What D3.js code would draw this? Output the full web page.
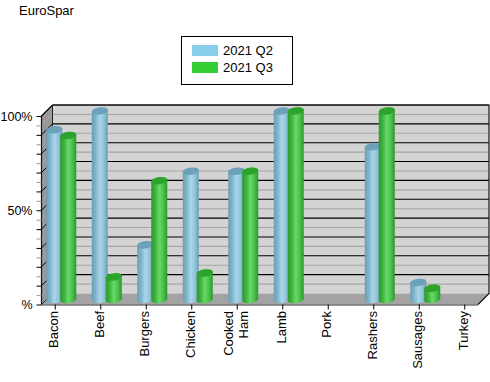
<!DOCTYPE html>
<html>
<head>
<meta charset="utf-8">
<script src="https://cdn.jsdelivr.net/npm/d3@7"></script>
<style>
  html, body { margin: 0; padding: 0; background: #fff; }
  text { font-family: "Liberation Sans", Arial, sans-serif; }
</style>
</head>
<body>
<div id="chart"></div>
<script>
const categories = ["Bacon", "Beef", "Burgers", "Chicken", "Cooked Ham", "Lamb", "Pork", "Rashers", "Sausages", "Turkey"]
const seriesNames = ["2021 Q2", "2021 Q3"]
const q2Values = [90, 100, 29, 68, 68, 100, 0, 81, 9, 0]
const q3Values = [87, 12, 63, 14, 68, 100, 0, 100, 6, 0]
const seriesValues = [q2Values, q3Values]
const yTicks = [0, 5, 10, 15, 20, 25, 30, 35, 40, 45, 50, 55, 60, 65, 70, 75, 80, 85, 90, 95, 100]
const yTickLabels = { 0: "%", 50: "50%", 100: "100%" }

const width = 490
const height = 382

// Plan avant du graphique + décalage de la profondeur 3D
const front = { left: 41.5, right: 478, top: 116, bottom: 304.5 }
const depth = 11

const svg = d3
  .select("#chart")
  .append("svg")
  .attr("width", width)
  .attr("height", height)
  .style("display", "block")

const y = d3.scaleLinear().domain([0, 100]).range([front.bottom, front.top])
const x = d3.scaleBand().domain(categories).range([32.5, 487.5])
const xSeries = d3.scalePoint().domain(seriesNames).range([-1, 13])

const defs = svg.append("defs")
const gradients = [
  { id: "grad-q2", stops: ["#6a9db4", "#7fb5cc", "#a8d6ea", "#93c4d9", "#699bb1"], top: "#6ba2b9" },
  { id: "grad-q3", stops: ["#2a9a2a", "#3fb23f", "#68d968", "#4cc04c", "#2a982a"], top: "#2ca42c" },
]
gradients.forEach((g) => {
  const lg = defs.append("linearGradient").attr("id", g.id)
  g.stops.forEach((c, i) => {
    lg.append("stop")
      .attr("offset", `${(100 * i) / (g.stops.length - 1)}%`)
      .attr("stop-color", c)
  })
})

const wall = svg.append("g")

// Mur du fond
wall
  .append("rect")
  .attr("x", front.left + depth)
  .attr("y", front.top - depth)
  .attr("width", front.right - front.left)
  .attr("height", front.bottom - front.top)
  .attr("fill", "#d3d3d3")

// Mur gauche
wall
  .append("path")
  .attr(
    "d",
    d3.line()([
      [front.left, front.top],
      [front.left + depth, front.top - depth],
      [front.left + depth, front.bottom - depth],
      [front.left, front.bottom],
    ]) + "Z"
  )
  .attr("fill", "#999999")

// Sol
wall
  .append("path")
  .attr(
    "d",
    d3.line()([
      [front.left, front.bottom],
      [front.left + depth, front.bottom - depth],
      [front.right + depth, front.bottom - depth],
      [front.right, front.bottom],
    ]) + "Z"
  )
  .attr("fill", "#a3a3a3")

// Grille : noir tous les 10, gris entre les deux
yTicks.forEach((t) => {
  const color = t % 10 === 0 ? "#000" : "#a6a6a6"
  if (t > 0) {
    wall
      .append("line")
      .attr("x1", front.left + depth)
      .attr("x2", front.right + depth)
      .attr("y1", y(t) - depth)
      .attr("y2", y(t) - depth)
      .attr("stroke", color)
      .attr("stroke-width", 1.1)
  }
  wall
    .append("line")
    .attr("x1", front.left)
    .attr("x2", front.left + depth)
    .attr("y1", y(t))
    .attr("y2", y(t) - depth)
    .attr("stroke", color)
    .attr("stroke-width", 1)
})

// Contours
wall
  .append("path")
  .attr(
    "d",
    d3.line()([
      [front.left, front.bottom],
      [front.left, front.top],
      [front.left + depth, front.top - depth],
      [front.right + depth, front.top - depth],
      [front.right + depth, front.bottom - depth],
      [front.right, front.bottom],
    ])
  )
  .attr("fill", "none")
  .attr("stroke", "#111")
  .attr("stroke-width", 1.2)
wall
  .append("line")
  .attr("x1", front.left + depth)
  .attr("x2", front.left + depth)
  .attr("y1", front.top - depth)
  .attr("y2", front.bottom - depth)
  .attr("stroke", "#222")
wall
  .append("line")
  .attr("x1", front.left)
  .attr("x2", front.left + depth)
  .attr("y1", front.bottom)
  .attr("y2", front.bottom - depth)
  .attr("stroke", "#222")

// Cylindres
const barRx = 8
const barRy = 3.6
const barLift = 4.5

function cylinder(cx, value) {
  const yTop = y(value) - barLift
  const yBase = y(0) - barLift
  return (
    `M${cx - barRx},${yTop}` +
    `L${cx - barRx},${yBase}` +
    `A${barRx},${barRy} -8 0 0 ${cx + barRx},${yBase - 1}` +
    `L${cx + barRx},${yTop - 1}` +
    `A${barRx},${barRy} -8 0 0 ${cx - barRx},${yTop}Z`
  )
}

function cylinderTop(cx, value) {
  const yTop = y(value) - barLift
  return (
    `M${cx - barRx},${yTop}` +
    `A${barRx},${barRy} -8 1 1 ${cx + barRx},${yTop - 1}` +
    `A${barRx},${barRy} -8 1 1 ${cx - barRx},${yTop}Z`
  )
}

const bars = svg.append("g")
categories.forEach((c, i) => {
  seriesNames.forEach((s, k) => {
    const value = seriesValues[k][i]
    if (!value) return
    const cx = x(c) + x.bandwidth() / 2 + xSeries(s)
    bars.append("path").attr("d", cylinder(cx, value)).attr("fill", `url(#${gradients[k].id})`)
    bars.append("path").attr("d", cylinderTop(cx, value)).attr("fill", gradients[k].top)
  })
})

// Axe Y
const yAxis = svg
  .append("g")
  .attr("transform", `translate(${front.left},0)`)
  .call(
    d3
      .axisLeft(y)
      .tickValues(yTicks)
      .tickSize(5)
      .tickPadding(4)
      .tickFormat((d) => yTickLabels[d] || "")
  )
yAxis.select(".domain").remove()
yAxis.selectAll("line").attr("stroke", (d) => (d % 10 === 0 ? "#000" : "#999"))
yAxis.selectAll("text").attr("font-size", "12.5px").attr("fill", "#000").style("font-family", "'Liberation Sans', Arial, sans-serif")

// Axe X
const xAxis = svg
  .append("g")
  .attr("transform", `translate(0,${front.bottom})`)
  .call(d3.axisBottom(x).tickSize(5).tickFormat(""))
xAxis.select(".domain").attr("d", `M${front.left},0.5H${front.right}`).attr("stroke", "#333").attr("stroke-width", 1.2)
xAxis.selectAll("line").attr("stroke", "#000")

// Libellés verticaux, "Cooked Ham" sur deux lignes
categories.forEach((c) => {
  const lines = c.split(" ")
  const cx = x(c) + x.bandwidth() / 2
  lines.forEach((line, i) => {
    const dx = (i - (lines.length - 1) / 2) * 15
    svg
      .append("text")
      .attr("transform", `translate(${cx + dx + 3},311) rotate(-90)`)
      .attr("text-anchor", "end")
      .attr("font-size", "13px")
      .attr("fill", "#000")
      .text(line)
  })
})

// Titre
svg.append("text").attr("x", 19).attr("y", 15).attr("font-size", "13px").attr("fill", "#000").text("EuroSpar")

// Légende
const legend = svg.append("g").attr("transform", "translate(181.5,36.5)")
legend
  .append("rect")
  .attr("width", 111)
  .attr("height", 48)
  .attr("fill", "#fff")
  .attr("stroke", "#000")
const legendColors = ["#87ceeb", "#32cd32"]
seriesNames.forEach((s, i) => {
  legend
    .append("rect")
    .attr("x", 10.5)
    .attr("y", 8.5 + i * 17)
    .attr("width", 26)
    .attr("height", 11)
    .attr("fill", legendColors[i])
  legend
    .append("text")
    .attr("x", 41.5)
    .attr("y", 18.5 + i * 17)
    .attr("font-size", "13px")
    .attr("fill", "#000")
    .text(s)
})
</script>
</body>
</html>
